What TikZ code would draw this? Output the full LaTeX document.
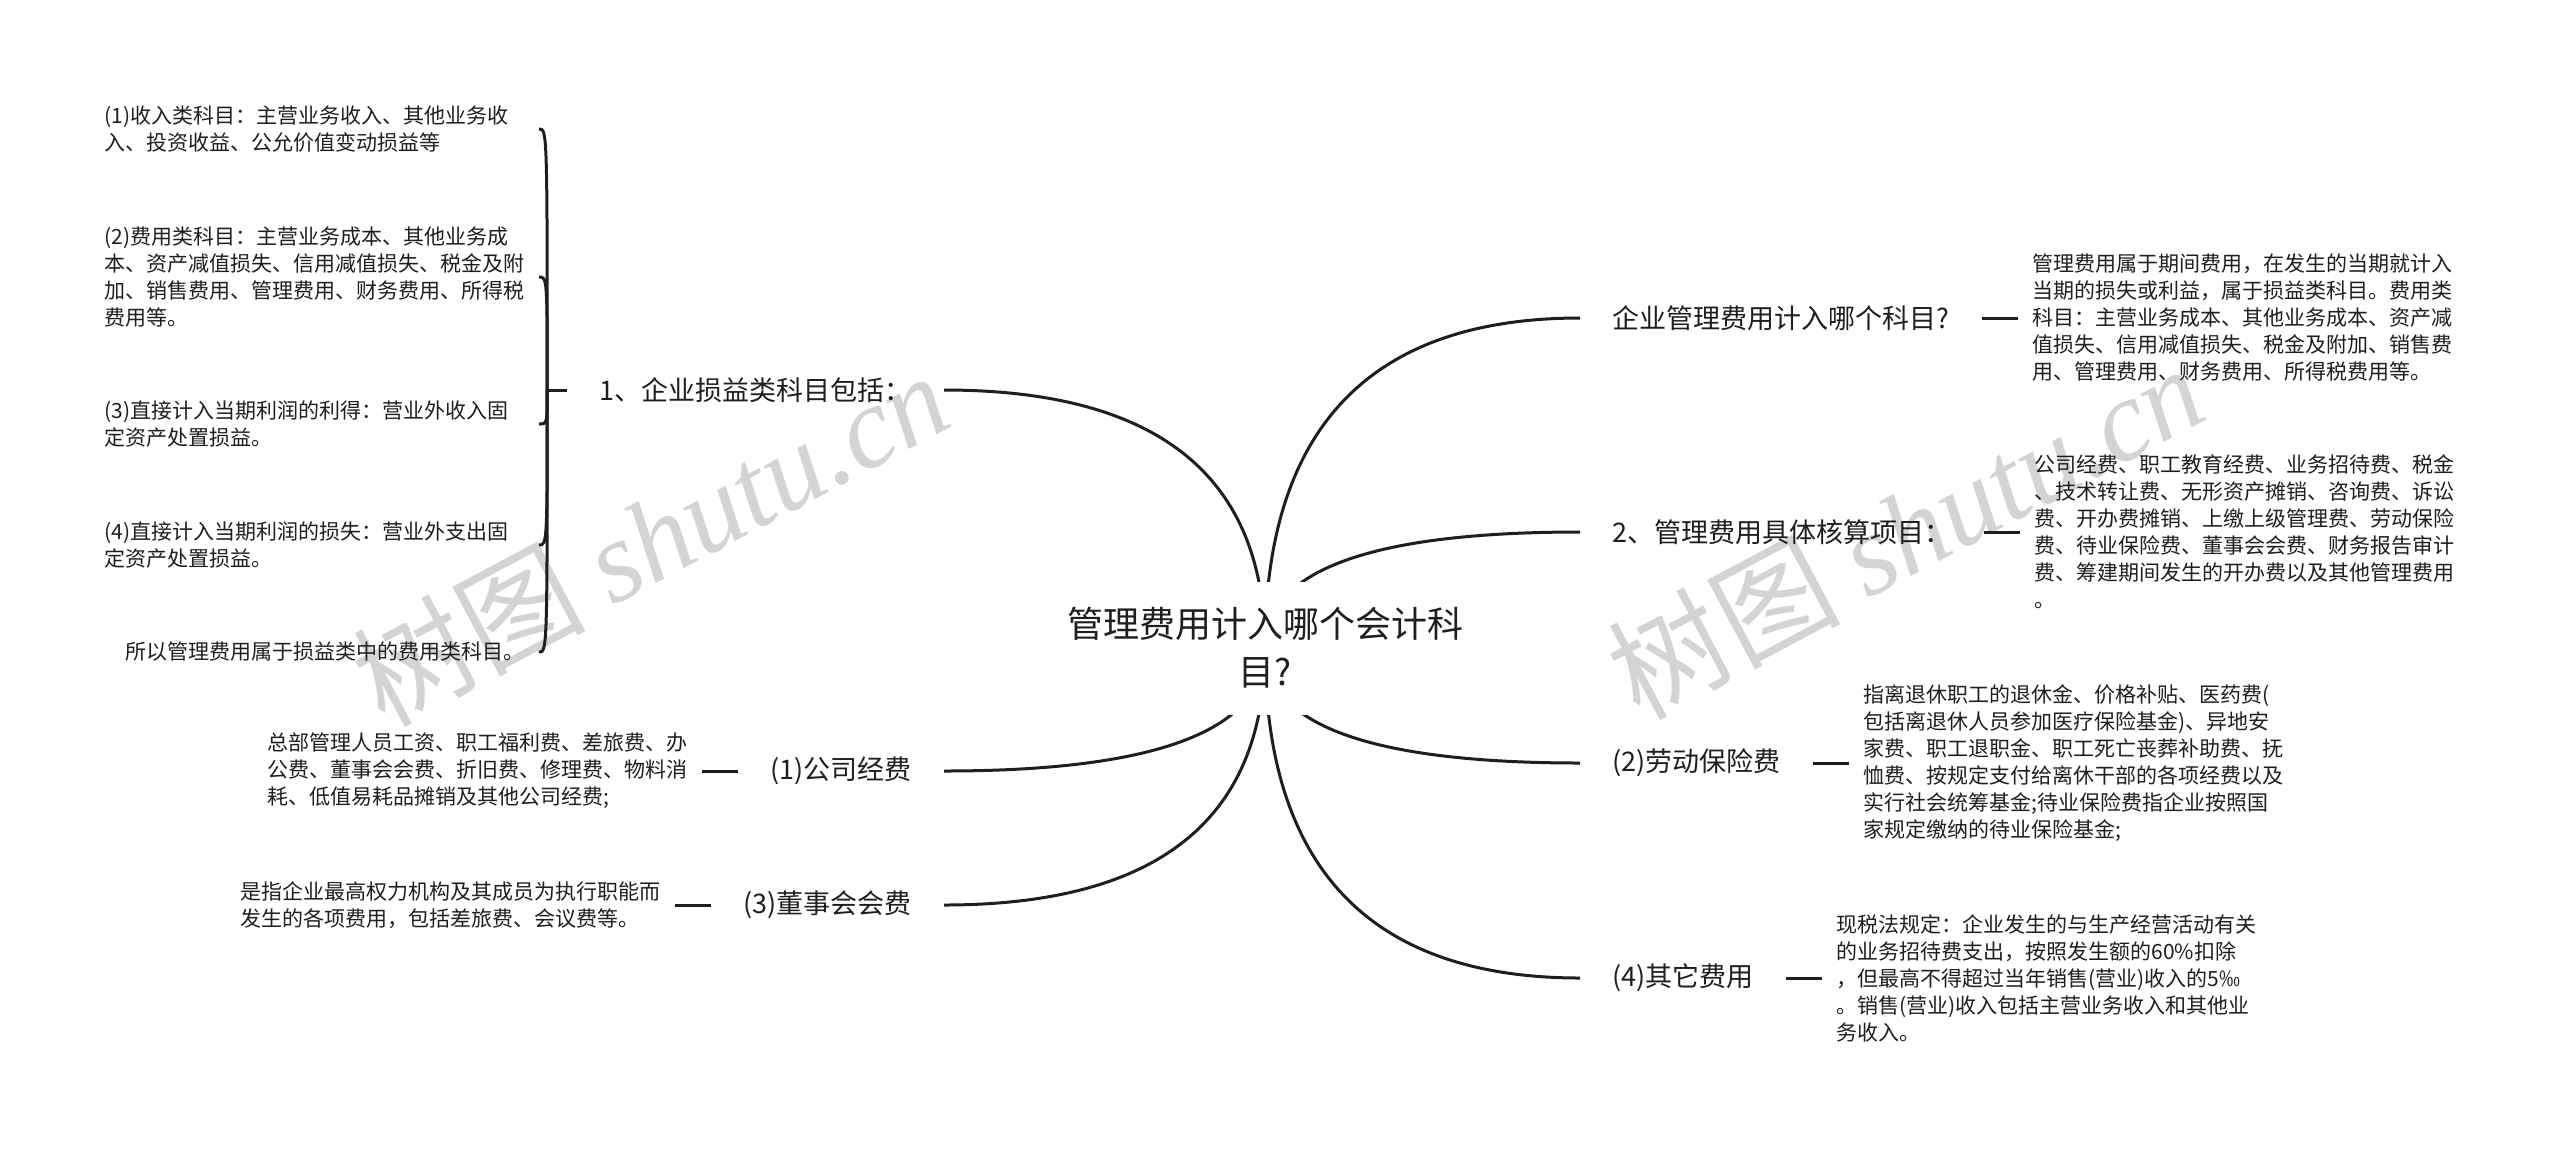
\documentclass[tikz,border=0pt]{standalone}
\usepackage{fontspec}
\setmainfont{Noto Sans CJK SC}
\newfontfamily\wmfont{Liberation Serif}
\usetikzlibrary{
  positioning,
  backgrounds,
  calc
}
\definecolor{inkblack}{RGB}{30,30,30}
\definecolor{wmgray}{RGB}{212,212,212}
\newcommand{\rootfont}{\fontsize{18}{24}\selectfont}
\newcommand{\branchfont}{\fontsize{13.5}{17}\selectfont}
\newcommand{\leaffont}{\fontsize{10.5}{13.5}\selectfont}
\tikzset{
  rootnode/.style={
    fill=white, align=center, font=\rootfont, text=inkblack,
    inner xsep=10pt, minimum height=66.5pt
  },
  branchnode/.style={
    font=\branchfont, text=inkblack,
    inner xsep=16pt, inner ysep=2pt
  },
  leafnode/.style={
    font=\leaffont, text=inkblack, align=left,
    inner xsep=7pt, inner ysep=2pt, text width=210pt
  },
  shortleaf/.style={
    font=\leaffont, text=inkblack,
    inner xsep=7pt, inner ysep=2pt
  },
  mainlink/.style={draw=inkblack, line width=1.5pt},
  stublink/.style={draw=inkblack, line width=1.5pt},
  bracelink/.style={draw=inkblack, line width=1.5pt},
  watermark/.style={
    text=wmgray, font=\fontsize{58}{58}\selectfont, rotate=28
  },
}

\begin{document}
\begin{tikzpicture}[x=0.5pt, y=-0.5pt]
  \useasboundingbox (0,0) rectangle (2560,1148);

  %% Root
  \node[rootnode] (root) at (1265,648) {管理费用计入哪个会计科\\目?};

  %% Left branches
  \node[branchnode, anchor=east] (lsub) at (944,390) {1、企业损益类科目包括：};
  \node[branchnode, anchor=east] (lfee) at (944,771) {(1)公司经费};
  \node[branchnode, anchor=east] (lboard) at (944,905) {(3)董事会会费};

  %% Right branches
  \node[branchnode, anchor=west] (rwhich) at (1580,318) {企业管理费用计入哪个科目?};
  \node[branchnode, anchor=west] (ritems) at (1580,532) {2、管理费用具体核算项目：};
  \node[branchnode, anchor=west] (rlabor) at (1580,763) {(2)劳动保险费};
  \node[branchnode, anchor=west] (rother) at (1580,978) {(4)其它费用};

  %% Children of 1
  \node[leafnode, anchor=east] (inc) at (539,129)
    {(1)收入类科目：主营业务收入、其他业务收\\入、投资收益、公允价值变动损益等};
  \node[leafnode, anchor=east] (cost) at (539,277)
    {(2)费用类科目：主营业务成本、其他业务成\\本、资产减值损失、信用减值损失、税金及附\\加、销售费用、管理费用、财务费用、所得税\\费用等。};
  \node[leafnode, anchor=east] (gain) at (539,424)
    {(3)直接计入当期利润的利得：营业外收入固\\定资产处置损益。};
  \node[leafnode, anchor=east] (loss) at (539,545)
    {(4)直接计入当期利润的损失：营业外支出固\\定资产处置损益。};
  \node[shortleaf, anchor=east] (sofar) at (539,652)
    {所以管理费用属于损益类中的费用类科目。};

  %% Other leaves
  \node[leafnode, left=18pt of lfee] (lfeetxt)
    {总部管理人员工资、职工福利费、差旅费、办\\公费、董事会会费、折旧费、修理费、物料消\\耗、低值易耗品摊销及其他公司经费;};
  \node[leafnode, left=18pt of lboard] (lboardtxt)
    {是指企业最高权力机构及其成员为执行职能而\\发生的各项费用，包括差旅费、会议费等。};
  \node[leafnode, right=18pt of rwhich] (rwhichtxt)
    {管理费用属于期间费用，在发生的当期就计入\\当期的损失或利益，属于损益类科目。费用类\\科目：主营业务成本、其他业务成本、资产减\\值损失、信用减值损失、税金及附加、销售费\\用、管理费用、财务费用、所得税费用等。};
  \node[leafnode, right=18pt of ritems] (ritemstxt)
    {公司经费、职工教育经费、业务招待费、税金\\、技术转让费、无形资产摊销、咨询费、诉讼\\费、开办费摊销、上缴上级管理费、劳动保险\\费、待业保险费、董事会会费、财务报告审计\\费、筹建期间发生的开办费以及其他管理费用\\。};
  \node[leafnode, right=18pt of rlabor] (rlabortxt)
    {指离退休职工的退休金、价格补贴、医药费(\\包括离退休人员参加医疗保险基金)、异地安\\家费、职工退职金、职工死亡丧葬补助费、抚\\恤费、按规定支付给离休干部的各项经费以及\\实行社会统筹基金;待业保险费指企业按照国\\家规定缴纳的待业保险基金;};
  \node[leafnode, right=18pt of rother] (rothertxt)
    {现税法规定：企业发生的与生产经营活动有关\\的业务招待费支出，按照发生额的60\%扣除\\，但最高不得超过当年销售(营业)收入的5‰\\。销售(营业)收入包括主营业务收入和其他业\\务收入。};

  %% Watermarks and main curves, behind the root
  \begin{scope}[on background layer]
    \node[watermark] (wmleft) at (650,537) {树图 {\wmfont\itshape shutu.cn}};
    \node[watermark] (wmright) at (1905,530) {树图 {\wmfont\itshape shutu.cn}};
    % quadratic curves: corner point as the single control
    \foreach \b in {lsub,lfee,lboard}
      \draw[mainlink] (root.center)
        .. controls ($(root.center)!2/3!(root.center |- \b.east)$)
        and ($(\b.east)!2/3!(root.center |- \b.east)$) .. (\b.east);
    \foreach \b in {rwhich,ritems,rlabor,rother}
      \draw[mainlink] (root.center)
        .. controls ($(root.center)!2/3!(root.center |- \b.west)$)
        and ($(\b.west)!2/3!(root.center |- \b.west)$) .. (\b.west);
  \end{scope}

  %% Stubs
  \draw[stublink] (rwhich.east) -- (rwhichtxt.west);
  \draw[stublink] (ritems.east) -- (ritemstxt.west);
  \draw[stublink] (rlabor.east) -- (rlabortxt.west);
  \draw[stublink] (rother.east) -- (rothertxt.west);
  \draw[stublink] (lfee.west) -- (lfeetxt.east);
  \draw[stublink] (lboard.west) -- (lboardtxt.east);

  %% Brace of 1
  \coordinate (lsubjoint) at ([xshift=-10pt]lsub.west);
  \draw[stublink] (lsub.west) -- (lsubjoint);
  \foreach \kid in {inc,cost,gain,loss,sofar}
    \draw[bracelink] (lsubjoint) .. controls (lsubjoint |- \kid.east) .. (\kid.east);

\end{tikzpicture}
\end{document}
